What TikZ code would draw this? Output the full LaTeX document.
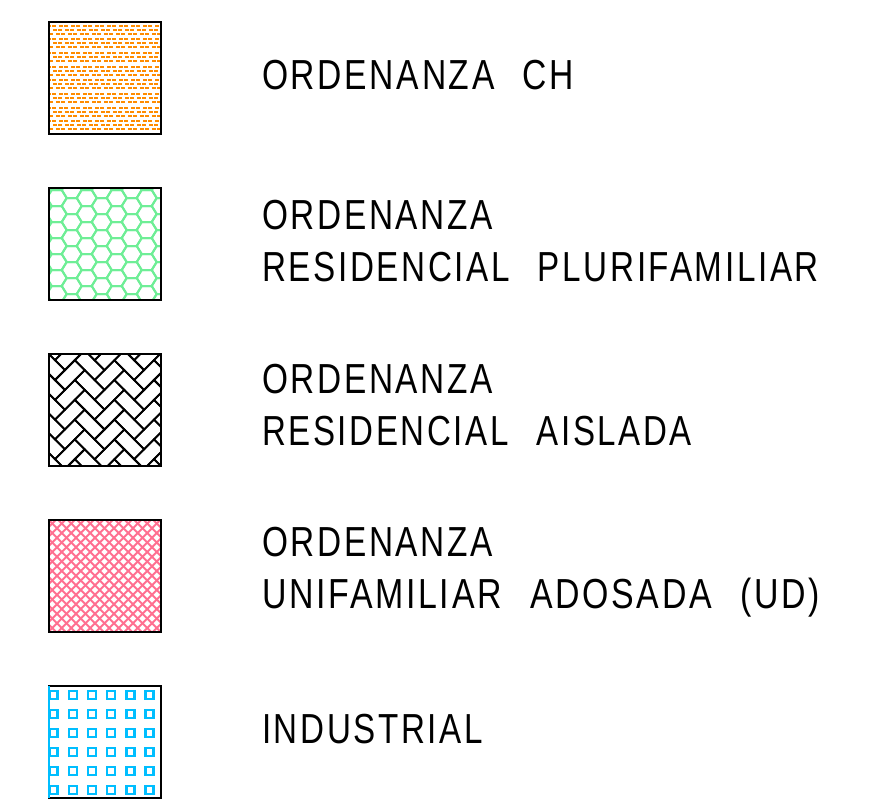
\documentclass[tikz,border=0pt]{standalone}
\usepackage{fontspec}
\usepackage{graphicx}
\newfontfamily\cadfont[LetterSpace=8]{Liberation Sans}
\definecolor{chorange}{RGB}{255,140,0}
\definecolor{hexgreen}{RGB}{110,238,150}
\definecolor{udpink}{RGB}{255,112,145}
\definecolor{indcyan}{RGB}{0,190,255}
\begin{document}
\begin{tikzpicture}[x=1pt,y=-1pt,
  swatch/.style={draw=black,line width=2pt,minimum width=112pt,minimum height=112pt,inner sep=0pt,outer sep=0pt,anchor=north west},
  lbltext/.style={anchor=base west,inner sep=0pt,outer sep=0pt,font=\cadfont\fontsize{42}{42}\selectfont},
  orangedash/.style={draw=chorange,line width=2pt,dash pattern=on 4pt off 1pt on 4pt off 3pt},
  hexline/.style={draw=hexgreen,line width=2pt,line join=round},
  brick/.style={draw=black,line width=1.8pt},
  pinkline/.style={draw=udpink,line width=2pt},
  cyansq/.style={draw=indcyan,line width=2.4pt}]
\useasboundingbox[fill=white] (0,0) rectangle (879,806);

% --- swatch 1: orange dashes
\begin{scope}
\clip (48.5,21.7) rectangle (160.5,133.7);
\foreach \g in {0,...,8}{
  \foreach \r/\ph in {0/0,1/6,2/3}{
    \draw[orangedash,dash phase=\ph pt] (47,{25.7+\g*13.65+\r*4}) -- (162,{25.7+\g*13.65+\r*4});
  }
}
\end{scope}

% --- swatch 2: hexagons
\begin{scope}
\clip (48.5,187.7) rectangle (160.5,299.7);
\foreach \i in {-2,...,8}{
  \foreach \j in {-2,...,8}{
    \pgfmathsetmacro\cx{56.7+\i*15}
    \pgfmathsetmacro\cy{198+\j*16+mod(\i,2)*8}
    \draw[hexline] (\cx+10,\cy) -- ++(-5,8) -- ++(-10,0) -- ++(-5,-8) -- ++(5,-8) -- ++(10,0) -- cycle;
  }
}
\end{scope}

% --- swatch 3: herringbone
\begin{scope}
\clip (48.5,353.7) rectangle (160.5,465.7);
\begin{scope}[shift={(104.5,409.7)},rotate=45,x=14pt,y=14pt]
\foreach \n in {-9,...,9}{
  \foreach \k in {-4,...,4}{
    \draw[brick] ({\n+2*\k},{\n-2*\k}) rectangle ++(2,1);
    \draw[brick] ({\n+2*\k},{\n-2*\k+1}) rectangle ++(1,2);
  }
}
\end{scope}
\end{scope}

% --- swatch 4: pink crosshatch
\begin{scope}
\clip (48.5,519.7) rectangle (160.5,631.7);
\foreach \i in {-13,...,13}{
  \draw[pinkline] ({104.5+\i*9.5-70},{575.7-70}) -- ++(140,140);
  \draw[pinkline] ({104.5+\i*9.5+70},{575.7-70}) -- ++(-140,140);
}
\end{scope}

% --- swatch 5: cyan squares
\foreach \i in {0,...,5}{
  \foreach \j in {0,...,5}{
    \draw[cyansq] ({49.5+\i*19.2},{690.9+\j*19}) rectangle ++(8,8);
  }
}

% --- frames
\node[swatch] (s1) at (48.5,21.7) {};
\node[swatch] (s2) at (48.5,187.7) {};
\node[swatch] (s3) at (48.5,353.7) {};
\node[swatch] (s4) at (48.5,519.7) {};
\node[swatch] (s5) at (48.5,685.7) {};
\draw[draw=indcyan,line width=2pt] (s5.north west) -- (s5.south west);

% --- labels
\node[lbltext] (t1) at (262,89.5) {\resizebox{312pt}{\height}{ORDENANZA\hspace{20pt} CH}};
\node[lbltext] (t2a) at (262,229.5) {\resizebox{231pt}{\height}{ORDENANZA}};
\node[lbltext] (t2b) at (262,281.5) {\resizebox{557pt}{\height}{RESIDENCIAL\hspace{20pt} PLURIFAMILIAR}};
\node[lbltext] (t3a) at (262,393) {\resizebox{231pt}{\height}{ORDENANZA}};
\node[lbltext] (t3b) at (262,445) {\resizebox{430pt}{\height}{RESIDENCIAL\hspace{20pt} AISLADA}};
\node[lbltext] (t4a) at (262,556.5) {\resizebox{231pt}{\height}{ORDENANZA}};
\node[lbltext] (t4b) at (262,608.5) {\resizebox{558pt}{\height}{UNIFAMILIAR\hspace{20pt} ADOSADA\hspace{20pt} (UD)}};
\node[lbltext] (t5) at (262,743.5) {\resizebox{221pt}{\height}{INDUSTRIAL}};
\end{tikzpicture}
\end{document}
